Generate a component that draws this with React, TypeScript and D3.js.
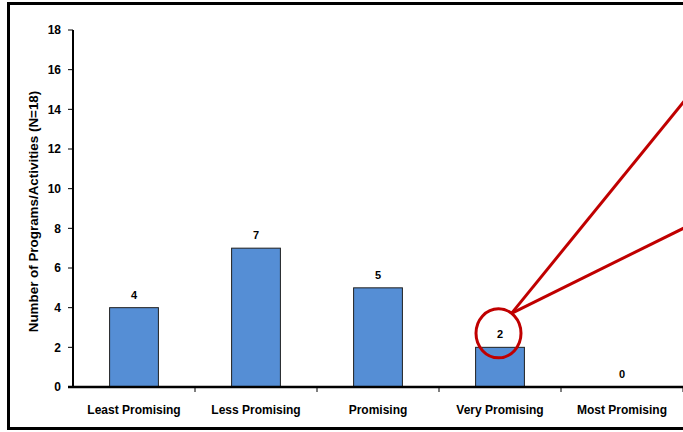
import React from "react";
import * as d3 from "d3";

const categories = ["Least Promising", "Less Promising", "Promising", "Very Promising", "Most Promising"];
const values = [4, 7, 5, 2, 0];
const yTicks = [0, 2, 4, 6, 8, 10, 12, 14, 16, 18];
const yTitle = "Number of Programs/Activities (N=18)";
const highlightIndex = 3;

const W = 683;
const H = 432;
const FONT = "Arial, 'Liberation Sans', sans-serif";

export default function App() {
  const x0 = 73, x1 = 683, yTop = 30, yBase = 387;
  const x = d3.scaleBand<string>().domain(categories).range([x0, x1]).paddingInner(0.6).paddingOuter(0.3);
  const xb = d3.scaleBand<string>().domain(categories).range([x0, x1]);
  const y = d3.scaleLinear().domain([0, 18]).range([yBase, yTop]);

  const hc = categories[highlightIndex];
  const cx = (xb(hc) as number) + xb.bandwidth() / 2 - 1.5;
  const cy = y(values[highlightIndex]) - 14;
  const anchorX = cx + 13, anchorY = cy - 20;

  return (
    <svg width={W} height={H} style={{ position: "absolute", left: 0, top: 0, background: "#fff" }} fontFamily={FONT}>
      <rect x={8.5} y={3.5} width={700} height={425} fill="#fff" stroke="#000" strokeWidth={3} />
      {/* bars */}
      {categories.map((c, i) => (
        <rect key={c} x={x(c)} y={y(values[i])} width={x.bandwidth()} height={yBase - y(values[i])}
          fill="#558ed5" stroke="#1f1f1f" strokeWidth={1} />
      ))}
      {/* value labels */}
      {categories.map((c, i) => (
        <text key={c + "v"} x={(xb(c) as number) + xb.bandwidth() / 2} y={y(values[i]) - 9} textAnchor="middle"
          fontSize={11} fontWeight="bold" fill="#000">{values[i]}</text>
      ))}
      {/* y axis */}
      <line x1={x0} x2={x0} y1={yTop} y2={yBase} stroke="#000" strokeWidth={2} />
      {yTicks.map(t => (
        <g key={t}>
          <line x1={x0 - 5} x2={x0} y1={y(t)} y2={y(t)} stroke="#000" strokeWidth={1} />
          <text x={61} y={y(t)} dy="0.35em" textAnchor="end" fontSize={12} fontWeight="bold">{t}</text>
        </g>
      ))}
      {/* x axis */}
      <line x1={x0 - 5} x2={x1 + 5} y1={yBase} y2={yBase} stroke="#000" strokeWidth={2.5} />
      {categories.map(c => (
        <line key={c + "t"} x1={(xb(c) as number) + xb.bandwidth()} x2={(xb(c) as number) + xb.bandwidth()}
          y1={yBase} y2={yBase + 5} stroke="#000" strokeWidth={1} />
      ))}
      {categories.map(c => (
        <text key={c + "l"} x={(xb(c) as number) + xb.bandwidth() / 2} y={414} textAnchor="middle"
          fontSize={12} fontWeight="bold">{c}</text>
      ))}
      <text transform={`translate(37.5,211.5) rotate(-90)`} textAnchor="middle" fontSize={13.4} fontWeight="bold">{yTitle}</text>
      {/* highlight */}
      <ellipse cx={cx} cy={cy} rx={22.5} ry={24.5} fill="none" stroke="#c00000" strokeWidth={3} />
      <line x1={anchorX} y1={anchorY} x2={690} y2={94} stroke="#c00000" strokeWidth={3} />
      <line x1={anchorX} y1={anchorY} x2={690} y2={225} stroke="#c00000" strokeWidth={3} />
    </svg>
  );
}
